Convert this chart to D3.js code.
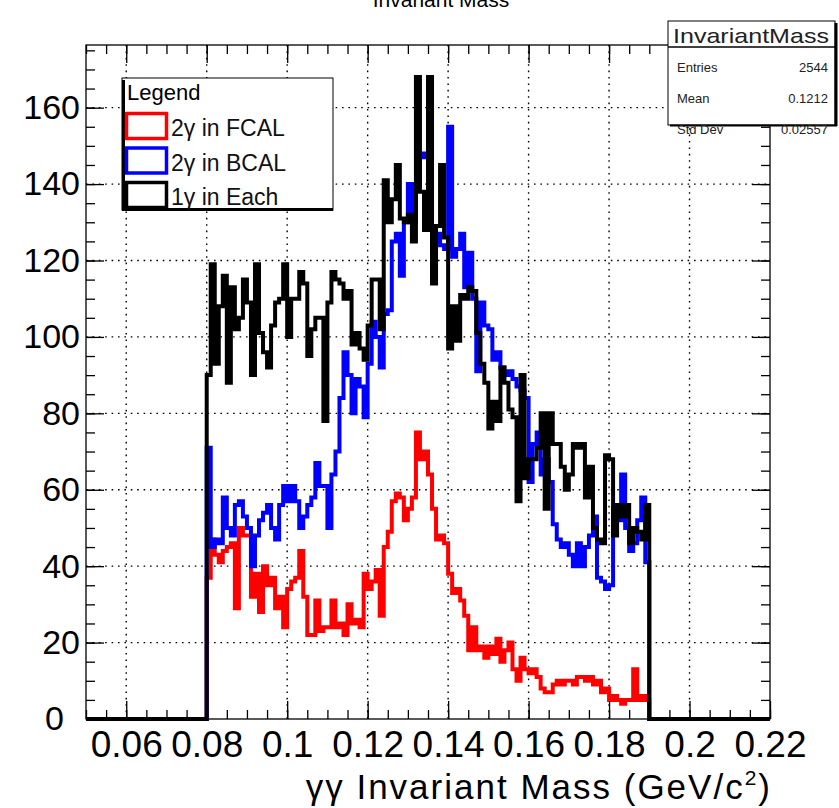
<!DOCTYPE html>
<html>
<head>
<meta charset="utf-8">
<script src="https://cdn.jsdelivr.net/npm/d3@7"></script>
<style>
  body { margin: 0; background: #fff; }
  svg { display: block; font-family: "Liberation Sans", Arial, sans-serif; }
  .grid line { stroke: #000; stroke-width: 1.4; stroke-dasharray: 1.6, 4.8; }
  .axis text { font-family: "Liberation Sans", Arial, sans-serif; fill: #000; }
  .axis line { stroke: #000; stroke-width: 1.3; }
</style>
</head>
<body>
<div id="chart"></div>
<script>
// Data: counts per 0.001 GeV bin, starting at 0.080
const binStart = 0.08
const binWidth = 0.001

const redCounts = [
  37, 47, 43, 41, 44, 45, 46, 29, 50, 48,
  48, 32, 38, 28, 40, 35, 37, 29, 32, 24,
  34, 36, 37, 44, 32, 22, 22, 31, 23, 24,
  24, 31, 24, 25, 22, 30, 25, 26, 24, 38,
  34, 36, 39, 27, 45, 49, 57, 59, 58, 52,
  55, 58, 75, 68, 70, 64, 55, 47, 48, 46,
  38, 33, 34, 31, 27, 18, 24, 18, 19, 16,
  19, 17, 21, 15, 18, 20, 13, 10, 16, 13,
  12, 13, 11, 8, 7, 7, 9, 10, 9, 10,
  10, 9, 11, 11, 10, 11, 9, 10, 7, 8,
  5, 6, 5, 4, 5, 5, 13, 5, 6, 5
]

const blueCounts = [
  71, 45, 47, 46, 58, 50, 48, 56, 57, 53,
  50, 40, 48, 52, 54, 56, 50, 47, 56, 61,
  57, 61, 57, 50, 53, 56, 58, 67, 61, 61,
  50, 64, 70, 84, 96, 90, 80, 89, 87, 79,
  93, 104, 100, 92, 106, 107, 125, 127, 116, 130,
  140, 130, 140, 147, 148, 128, 125, 127, 124, 123,
  155, 121, 123, 127, 113, 122, 110, 91, 109, 103,
  102, 94, 96, 92, 90, 91, 89, 87, 86, 84,
  62, 72, 75, 64, 68, 62, 51, 47, 45, 46,
  43, 40, 46, 40, 45, 48, 53, 37, 36, 34,
  35, 55, 52, 64, 50, 44, 46, 52, 58, 41
]

const blackCounts = [
  90, 119, 93, 108, 116, 88, 113, 102, 105, 115,
  109, 90, 119, 101, 96, 92, 103, 109, 110, 119,
  100, 110, 110, 117, 114, 95, 102, 105, 105, 78,
  109, 117, 115, 114, 110, 112, 98, 101, 97, 94,
  103, 115, 115, 102, 141, 130, 136, 145, 131, 130,
  132, 125, 168, 138, 128, 168, 114, 129, 145, 126,
  97, 108, 99, 111, 110, 113, 112, 101, 93, 88,
  76, 83, 78, 92, 88, 81, 79, 57, 90, 63,
  68, 68, 71, 80, 55, 80, 72, 72, 66, 60,
  64, 72, 71, 72, 58, 66, 50, 47, 46, 69,
  68, 48, 56, 53, 56, 46, 50, 49, 47, 56
]

const seriesNames = ['2γ in FCAL', '2γ in BCAL', '1γ in Each']
const seriesColors = ['#ff0000', '#0000ff', '#000000']

const xTicks = [0.06, 0.08, 0.1, 0.12, 0.14, 0.16, 0.18, 0.2, 0.22]
const yTicks = [0, 20, 40, 60, 80, 100, 120, 140, 160]

const statsTitle = 'InvariantMass'
const statsLabels = ['Entries', 'Mean', 'Std Dev']
const statsValues = ['2544', '0.1212', '0.02557']

function draw() {
  const width = 839
  const height = 808
  const frame = { left: 86, right: 770, top: 45, bottom: 719 }

  const svg = d3.select('#chart')
    .append('svg')
    .attr('width', width)
    .attr('height', height)

  svg.append('rect').attr('width', width).attr('height', height).attr('fill', '#fff')

  // Scales
  const xScale = d3.scaleLinear()
    .domain([0.05, 0.22])
    .range([frame.left, frame.right])

  const yScale = d3.scaleLinear()
    .domain([0, 176.4])
    .range([frame.bottom, frame.top])

  // Title (mostly off the top of the canvas)
  svg.append('text')
    .attr('x', 441).attr('y', 7)
    .attr('text-anchor', 'middle')
    .attr('font-size', 21)
    .text('Invariant Mass')

  // Grid
  const grid = svg.append('g').attr('class', 'grid')
  grid.selectAll('.gx')
    .data(xTicks.filter(d => d < 0.219))
    .join('line')
    .attr('x1', d => xScale(d)).attr('x2', d => xScale(d))
    .attr('y1', frame.top).attr('y2', frame.bottom)
  grid.selectAll('.gy')
    .data(yTicks.filter(d => d > 0))
    .join('line')
    .attr('class', 'gy')
    .attr('x1', frame.left).attr('x2', frame.right)
    .attr('y1', d => yScale(d)).attr('y2', d => yScale(d))

  // Histograms
  const allCounts = [redCounts, blueCounts, blackCounts]
  const stepLine = d3.line()
    .x(d => xScale(d[0]))
    .y(d => yScale(d[1]))
    .curve(d3.curveStepAfter)

  allCounts.forEach((counts, k) => {
    const pts = [[0.05, 0]]
    counts.forEach((c, i) => pts.push([binStart + i * binWidth, c]))
    pts.push([binStart + counts.length * binWidth, 0])
    pts.push([0.22, 0])
    svg.append('path')
      .datum(pts)
      .attr('d', stepLine)
      .attr('fill', 'none')
      .attr('stroke', seriesColors[k])
      .attr('stroke-width', 4)
      .attr('stroke-linejoin', 'miter')
  })

  // Frame
  svg.append('rect')
    .attr('x', frame.left).attr('y', frame.top)
    .attr('width', frame.right - frame.left)
    .attr('height', frame.bottom - frame.top)
    .attr('fill', 'none').attr('stroke', '#000').attr('stroke-width', 1.3)

  // Axes
  const minorX = d3.range(0, 35).map(i => 0.05 + i * 0.005)
  const minorY = d3.range(0, 36).map(i => i * 5)
  const fmtX = d => String(+d.toFixed(2))

  const xAxisGroup = svg.append('g')
    .attr('class', 'axis')
    .attr('transform', `translate(0, ${frame.bottom})`)
    .call(d3.axisBottom(xScale).tickValues(xTicks).tickSize(-18).tickPadding(12).tickFormat(fmtX))
  xAxisGroup.selectAll('text').attr('font-size', 37)

  svg.append('g').attr('class', 'axis')
    .attr('transform', `translate(0, ${frame.bottom})`)
    .call(d3.axisBottom(xScale).tickValues(minorX).tickSize(-9).tickFormat(''))

  svg.append('g').attr('class', 'axis')
    .attr('transform', `translate(0, ${frame.top})`)
    .call(d3.axisTop(xScale).tickValues(xTicks).tickSize(-18).tickFormat(''))
  svg.append('g').attr('class', 'axis')
    .attr('transform', `translate(0, ${frame.top})`)
    .call(d3.axisTop(xScale).tickValues(minorX).tickSize(-9).tickFormat(''))

  const yAxisGroup = svg.append('g')
    .attr('class', 'axis')
    .attr('transform', `translate(${frame.left}, 0)`)
    .call(d3.axisLeft(yScale).tickValues(yTicks).tickSize(-18).tickPadding(6))
  yAxisGroup.selectAll('text').attr('font-size', 34)
  // ROOT shifts the zero label to the left
  yAxisGroup.selectAll('.tick').filter(d => d === 0).select('text').attr('x', -22)

  svg.append('g').attr('class', 'axis')
    .attr('transform', `translate(${frame.left}, 0)`)
    .call(d3.axisLeft(yScale).tickValues(minorY).tickSize(-9).tickFormat(''))
  svg.append('g').attr('class', 'axis')
    .attr('transform', `translate(${frame.right}, 0)`)
    .call(d3.axisRight(yScale).tickValues(yTicks).tickSize(-18).tickFormat(''))
  svg.append('g').attr('class', 'axis')
    .attr('transform', `translate(${frame.right}, 0)`)
    .call(d3.axisRight(yScale).tickValues(minorY).tickSize(-9).tickFormat(''))

  svg.selectAll('.axis .domain').remove()

  // X axis title
  const xTitle = svg.append('text')
    .attr('x', 772).attr('y', 799)
    .attr('text-anchor', 'end')
    .attr('font-size', 35)
    .attr('letter-spacing', 2)
  xTitle.append('tspan').text('γγ Invariant Mass (GeV/c')
  xTitle.append('tspan').attr('font-size', 21).attr('dy', -14).text('2')
  xTitle.append('tspan').attr('dy', 14).text(')')

  // Legend
  const legend = svg.append('g')
  legend.append('rect')
    .attr('x', 122).attr('y', 78).attr('width', 211).attr('height', 132)
    .attr('fill', '#fff').attr('stroke', '#000').attr('stroke-width', 1)
  legend.append('line').attr('x1', 123.5).attr('x2', 123.5).attr('y1', 80).attr('y2', 211)
    .attr('stroke', '#000').attr('stroke-width', 3)
  legend.append('line').attr('x1', 122).attr('x2', 333).attr('y1', 209.5).attr('y2', 209.5)
    .attr('stroke', '#000').attr('stroke-width', 3)
  legend.append('text')
    .attr('x', 127).attr('y', 100)
    .attr('font-size', 22)
    .text('Legend')

  const entry = legend.selectAll('.entry')
    .data(seriesNames)
    .join('g')
    .attr('transform', (d, i) => `translate(0, ${i * 34.5})`)
  entry.append('rect')
    .attr('x', 126.5).attr('y', 113.5).attr('width', 40).attr('height', 25)
    .attr('fill', '#fff')
    .attr('stroke', (d, i) => seriesColors[i])
    .attr('stroke-width', 3.5)
  entry.append('text')
    .attr('x', 171).attr('y', 136)
    .attr('font-size', 23)
    .attr('fill', '#111')
    .text(d => d)

  // Stats box
  const stats = svg.append('g')
  stats.append('rect')
    .attr('x', 668).attr('y', 21).attr('width', 167).attr('height', 104)
    .attr('fill', '#fff').attr('stroke', '#000').attr('stroke-width', 1)
  stats.append('line').attr('x1', 836).attr('x2', 836).attr('y1', 23).attr('y2', 126)
    .attr('stroke', '#000').attr('stroke-width', 3)
  stats.append('line').attr('x1', 670).attr('x2', 837).attr('y1', 125.5).attr('y2', 125.5)
    .attr('stroke', '#000').attr('stroke-width', 2)
  stats.append('line').attr('x1', 668).attr('x2', 835).attr('y1', 47).attr('y2', 47)
    .attr('stroke', '#000').attr('stroke-width', 1.5)
  stats.append('text')
    .attr('x', 751).attr('y', 43)
    .attr('text-anchor', 'middle')
    .attr('font-size', 21)
    .attr('fill', '#222')
    .attr('textLength', 156).attr('lengthAdjust', 'spacingAndGlyphs')
    .text(statsTitle)
  stats.selectAll('.slabel')
    .data(statsLabels)
    .join('text')
    .attr('x', 677).attr('y', (d, i) => 72 + i * 31)
    .attr('font-size', 13)
    .attr('fill', '#222')
    .text(d => d)
  stats.selectAll('.svalue')
    .data(statsValues)
    .join('text')
    .attr('x', 828).attr('y', (d, i) => 72 + i * 31)
    .attr('text-anchor', 'end')
    .attr('font-size', 13)
    .attr('fill', '#222')
    .text(d => d)
}
draw()
</script>
</body>
</html>
